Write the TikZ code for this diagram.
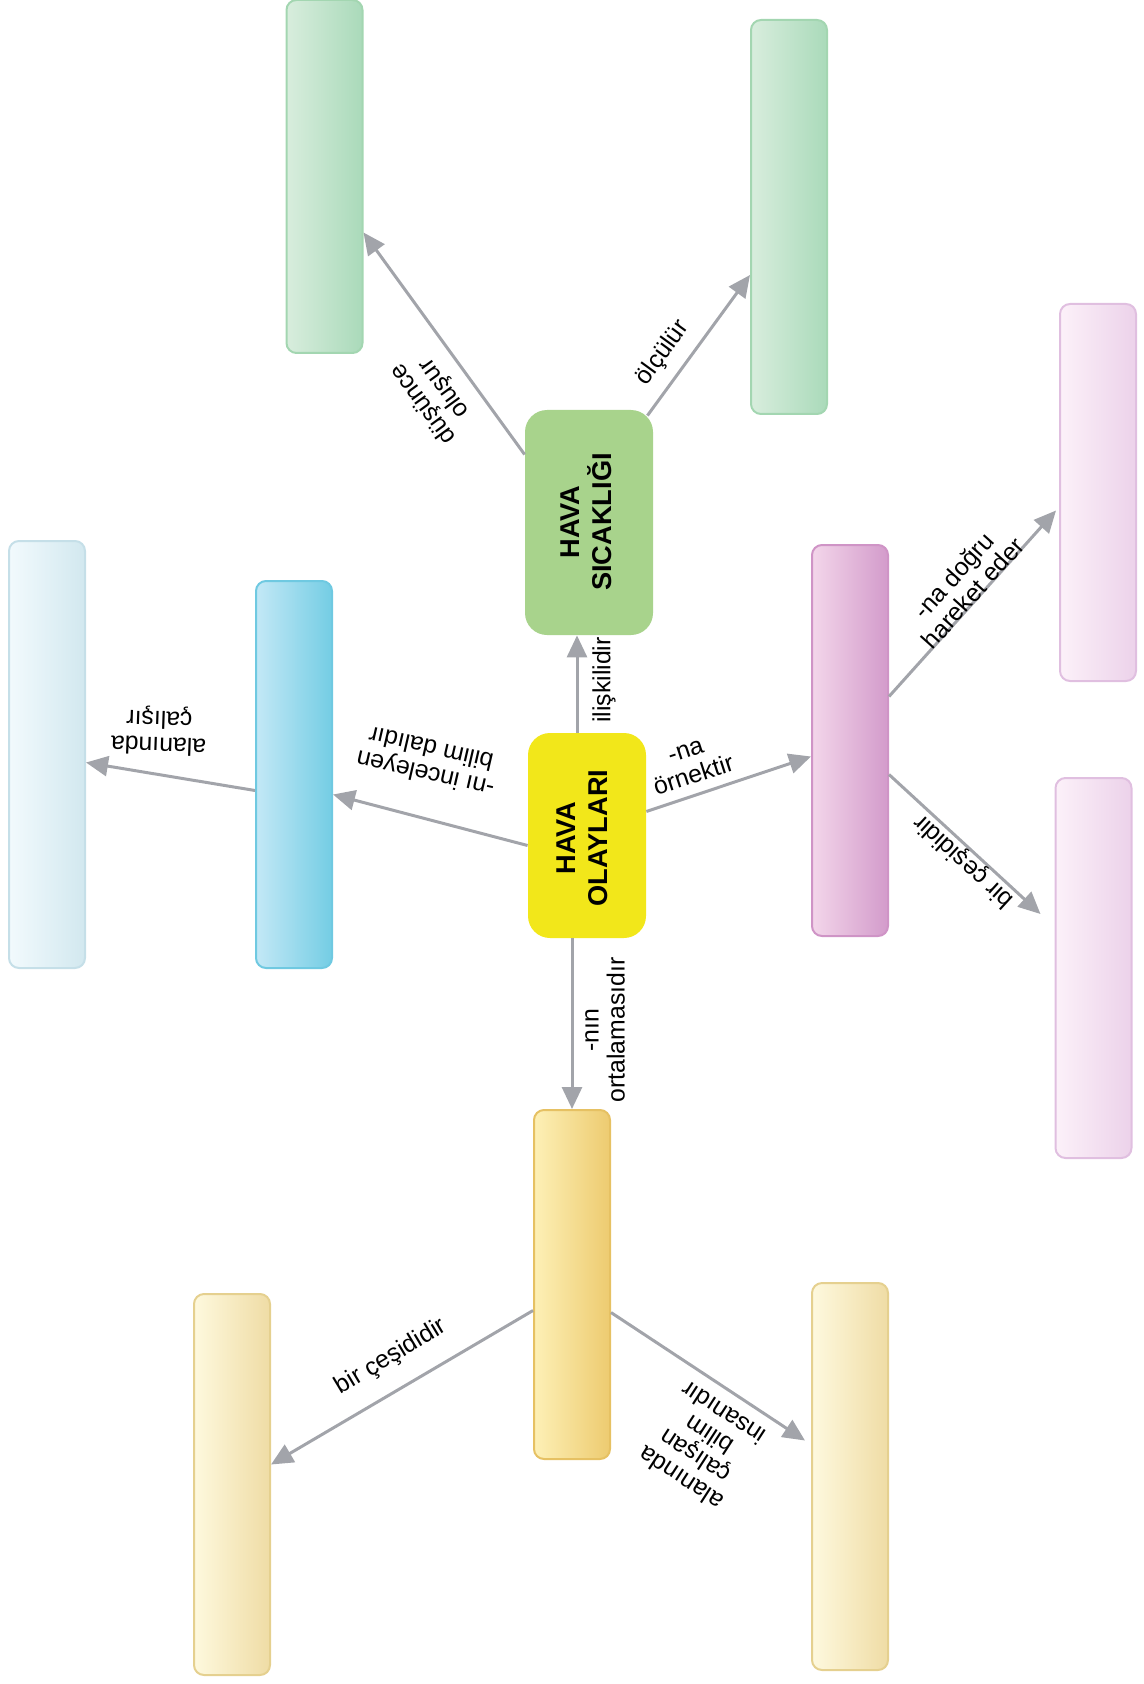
\documentclass[tikz,border=0pt]{standalone}
\usepackage{fontspec}
\setmainfont{Liberation Sans}
\usetikzlibrary{arrows.meta}

\definecolor{olayyellow}{HTML}{F2E71A}
\definecolor{sicakgreen}{HTML}{A8D38C}
\definecolor{okgray}{HTML}{A2A4AA}

\begin{document}
\begin{tikzpicture}[
			x=0.5pt, y=-0.5pt,
			kutu/.style={draw, rounded corners=5pt, line width=1pt, inner sep=0pt, minimum width=38pt},
			yesil/.style={kutu, left color=green!10!white!90!teal!20, right color=green!40!teal!25!white, draw=green!40!teal!30!white},
			merkez/.style={rounded corners=11pt, inner sep=0pt},
			ok/.style={draw=okgray, line width=1.5pt, -{Triangle[length=11pt,width=10pt]}},
			etiket/.style={font=\fontsize{12.4}{13}\selectfont, align=center, inner sep=0pt},
			baslik/.style={font=\fontsize{13.6}{16}\selectfont\bfseries, align=center, inner sep=0pt}
		]
		\useasboundingbox (0,0) rectangle (1144,1684);
		% merkez kutular
		\node[merkez, fill=olayyellow, minimum width=59pt, minimum height=102.5pt] (olay) at (587,835.5) {};
		\node[baslik, rotate=90] (olaytxt) at (582,838) {HAVA\\OLAYLARI};
		\node[merkez, fill=sicakgreen, minimum width=64pt, minimum height=112.5pt] (sicak) at (589,522.5) {};
		\node[baslik, rotate=90] (sicaktxt) at (586,522) {HAVA\\SICAKLIĞI};
		% bos kutular
		\node[kutu, left color={rgb,255:red,216;green,237;blue,221}, right color={rgb,255:red,170;green,218;blue,186}, draw={rgb,255:red,163;green,214;blue,177}, minimum height=176.5pt] (gsol) at (324.5,176.5) {};
		\node[kutu, left color={rgb,255:red,216;green,237;blue,221}, right color={rgb,255:red,170;green,218;blue,186}, draw={rgb,255:red,163;green,214;blue,177}, minimum height=197pt] (gsag) at (789,217) {};
		\node[kutu, left color={rgb,255:red,195;green,232;blue,246}, right color={rgb,255:red,116;green,205;blue,228}, draw={rgb,255:red,111;green,201;blue,225}, minimum height=193.5pt] (mavi) at (294,774.5) {};
		\node[kutu, left color={rgb,255:red,242;green,250;blue,253}, right color={rgb,255:red,210;green,232;blue,239}, draw={rgb,255:red,197;green,223;blue,232}, minimum height=213.5pt] (acikmavi) at (47,754.5) {};
		\node[kutu, left color={rgb,255:red,243;green,214;blue,234}, right color={rgb,255:red,211;green,155;blue,203}, draw={rgb,255:red,207;green,148;blue,198}, minimum height=195.5pt] (pembe) at (850,740.5) {};
		\node[kutu, left color={rgb,255:red,252;green,241;blue,249}, right color={rgb,255:red,236;green,210;blue,234}, draw={rgb,255:red,224;green,191;blue,224}, minimum height=188.5pt] (pembe1) at (1098,492.5) {};
		\node[kutu, left color={rgb,255:red,252;green,241;blue,249}, right color={rgb,255:red,236;green,210;blue,234}, draw={rgb,255:red,224;green,191;blue,224}, minimum height=190pt] (pembe2) at (1093.5,968) {};
		\node[kutu, left color={rgb,255:red,253;green,240;blue,182}, right color={rgb,255:red,237;green,203;blue,112}, draw={rgb,255:red,230;green,193;blue,99}, minimum height=174.5pt] (sari) at (572,1284.5) {};
		\node[kutu, left color={rgb,255:red,254;green,249;blue,222}, right color={rgb,255:red,239;green,220;blue,165}, draw={rgb,255:red,229;green,208;blue,143}, minimum height=190.5pt] (sari1) at (232,1484.5) {};
		\node[kutu, left color={rgb,255:red,254;green,249;blue,222}, right color={rgb,255:red,239;green,220;blue,165}, draw={rgb,255:red,229;green,208;blue,143}, minimum height=193.5pt] (sari2) at (850,1476.5) {};
		% oklar
		\draw[ok] ([xshift=-5pt]olay.north) -- ([xshift=-6pt]sicak.south);
		\draw[ok] ([xshift=-7.5pt]olay.south) -- (sari.north);
		\draw[ok] ([yshift=12pt]olay.east) -- ([yshift=-8pt]pembe.west);
		\draw[ok] ([yshift=-5pt]olay.west) -- ([yshift=-10pt]mavi.east);
		\draw[ok] ([yshift=-8pt]mavi.west) -- ([yshift=-4pt]acikmavi.east);
		\draw[ok] ([yshift=34pt]sicak.west) -- ([yshift=-28pt]gsol.east);
		\draw[ok] ([xshift=-3pt,yshift=-3pt]sicak.north east) -- ([yshift=-29pt]gsag.west);
		\draw[ok] ([yshift=22pt]pembe.east) -- ([xshift=-1.5pt,yshift=-9pt]pembe1.west);
		\draw[ok] ([yshift=-17pt]pembe.east) -- ([xshift=-7pt,yshift=27pt]pembe2.west);
		\draw[ok] ([yshift=-13pt]sari.west) -- ([yshift=10pt]sari1.east);
		\draw[ok] ([yshift=-14pt]sari.east) -- ([xshift=-3pt,yshift=18pt]sari2.west);
		% ok etiketleri
		\node[etiket, rotate=90] (e1) at (604,680) {ilişkilidir};
		\node[etiket, rotate=18] (e2) at (690,764) {-na\\örnektir};
		\node[etiket, rotate=167] (e3) at (428,762) {-nı inceleyen\\bilim dalıdır};
		\node[etiket, rotate=178] (e4) at (159,731) {alanında\\çalışır};
		\node[etiket, rotate=126] (e5) at (434,396) {düşünce\\oluşur};
		\node[etiket, rotate=54] (e6) at (663,353) {ölçülür};
		\node[etiket, rotate=48] (e7) at (963,584) {-na doğru\\hareket eder};
		\node[etiket, rotate=137.5] (e8) at (964,861) {bir çeşididir};
		\node[etiket, rotate=90] (e9) at (605,1030) {-nın\\ortalamasıdır};
		\node[etiket, rotate=31] (e10) at (391,1357) {bir çeşididir};
		\node[etiket, rotate=147] (e11) at (702,1446) {alanında\\çalışan\\bilim\\insanıdır};
	\end{tikzpicture}
\end{document}
